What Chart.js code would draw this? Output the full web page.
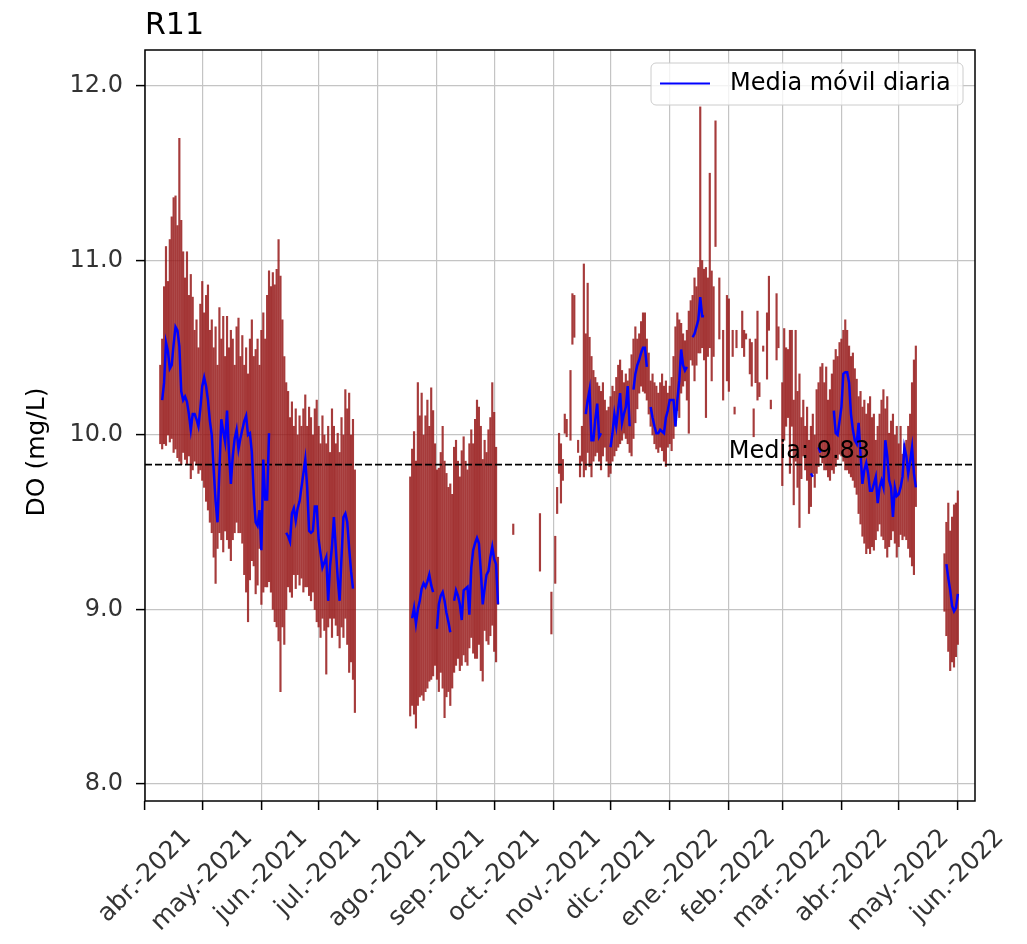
<!DOCTYPE html>
<html>
<head>
<meta charset="utf-8">
<script src="https://cdn.jsdelivr.net/npm/chart.js@4.4.1/dist/chart.umd.min.js"></script>
<style>
  html, body { margin: 0; padding: 0; background: #fff; }
  canvas { display: block; }
</style>
</head>
<body>
<canvas id="chart" width="1027" height="944"></canvas>
<script>
// x values are days counted from 1 April 2021
const monthDays = [0, 30, 61, 91, 122, 153, 183, 214, 244, 275, 306, 334, 365, 395, 426]
const monthLabels = ['abr.-2021', 'may.-2021', 'jun.-2021', 'jul.-2021', 'ago.-2021', 'sep.-2021',
  'oct.-2021', 'nov.-2021', 'dic.-2021', 'ene.-2022', 'feb.-2022', 'mar.-2022', 'abr.-2022',
  'may.-2022', 'jun.-2022']
const yTicks = [8, 9, 10, 11, 12]
const meanValue = 9.83

// daily range of the raw DO readings (mg/L), one entry per day
const seg1Start = 8
const seg1High = [
  10.40, 10.55, 10.85, 11.08, 10.88, 11.12, 11.25, 11.36, 11.37, 11.20,
  11.70, 11.23, 11.05, 10.90, 11.05, 10.80, 10.92, 10.79, 10.60, 10.66,
  10.50, 10.75, 10.88, 10.70, 10.80, 10.86, 10.60, 10.66, 10.50, 10.62,
  10.40, 10.73, 10.55, 10.68, 10.45, 10.68, 10.50, 10.60, 10.55, 10.40,
  10.62, 10.67, 10.45, 10.57, 10.40, 10.50, 10.35, 10.55, 10.66, 10.45,
  10.49, 10.55, 10.40, 10.60, 10.70, 10.55, 10.80, 10.94, 10.85, 10.93,
  10.86, 10.95, 11.12, 10.91, 10.66, 10.45, 10.30, 10.25, 10.10, 10.19,
  10.05, 10.15, 10.00, 10.11, 10.05, 10.15, 10.23, 10.05, 10.16, 10.10,
  10.00, 10.15, 10.20, 10.05, 9.95, 10.11, 10.00, 9.95, 10.05, 9.90,
  10.15, 10.05, 9.95, 10.01, 9.90, 10.10, 10.00, 10.26, 10.15, 10.24,
  10.00, 10.09, 9.80
]
const seg1Low = [
  9.95, 9.92, 9.95, 9.94, 10.00, 9.96, 9.98, 9.90, 9.92, 9.87,
  9.85, 9.83, 9.90, 9.86, 9.83, 9.88, 9.75, 9.80, 9.85, 9.83,
  9.78, 9.80, 9.74, 9.70, 9.62, 9.57, 9.50, 9.44, 9.30, 9.15,
  9.35, 9.44, 9.40, 9.33, 9.45, 9.40, 9.35, 9.28, 9.40, 9.44,
  9.50, 9.44, 9.44, 9.38, 9.20, 9.10, 8.93, 9.17, 9.28, 9.25,
  9.09, 9.14, 9.35, 9.03, 9.10, 9.13, 9.13, 9.16, 9.10, 9.00,
  8.93, 8.90, 8.82, 8.53, 8.90, 8.80, 9.00, 9.13, 9.10, 9.07,
  9.20, 9.12, 9.20, 9.14, 9.18, 9.10, 9.13, 9.13, 9.08, 9.05,
  9.10, 9.00, 8.93, 8.90, 8.84, 8.95, 8.88, 8.63, 8.90, 8.95,
  8.84, 8.95, 8.91, 8.85, 8.78, 8.90, 8.84, 8.95, 8.80, 8.64,
  8.70, 8.60, 8.41
]

const seg2Start = 139
const seg2High = [
  9.76, 9.92, 10.02, 9.85, 10.30, 10.11, 10.24, 10.00, 10.11, 10.20,
  10.05, 10.27, 10.14, 9.95, 9.80, 9.81, 9.90, 10.05, 9.85, 9.78,
  9.70, 9.72, 9.66, 9.93, 9.97, 9.85, 9.76, 9.91, 9.99, 9.85,
  9.80, 9.95, 10.03, 9.95, 10.09, 10.20, 10.16, 10.05, 9.86, 9.97,
  9.90, 10.03, 10.10, 10.30, 10.13, 9.93, 9.30
]
const seg2Low = [
  8.39, 8.45, 8.40, 8.32, 8.45, 8.50, 8.51, 8.48, 8.53, 8.55,
  8.59, 8.60, 8.62, 8.68, 8.60, 8.53, 8.64, 8.55, 8.38, 8.50,
  8.53, 8.45, 8.55, 8.64, 8.68, 8.72, 8.65, 8.68, 8.74, 8.70,
  8.68, 8.78, 8.84, 8.75, 8.72, 8.72, 8.80, 8.65, 8.59, 8.88,
  8.82, 8.80, 8.85, 8.91, 8.76, 8.70, 9.03
]

const seg3Start = 230
const seg3High = [
  10.98, 10.58, 10.87, 10.56, 10.45, 10.37, 10.33, 10.30, 10.28, 10.25,
  10.30, 10.20, 10.14, 10.16, 10.22, 10.28, 10.25, 10.33, 10.40, 10.43,
  10.37, 10.30, 10.35, 10.31, 10.38, 10.46, 10.55, 10.62, 10.55, 10.58,
  10.65, 10.70, 10.70, 10.55, 10.47, 10.31, 10.35, 10.30, 10.28, 10.24,
  10.30, 10.35, 10.28, 10.31, 10.24, 10.28, 10.33, 10.45, 10.62, 10.70,
  10.66, 10.64, 10.58, 10.54, 10.60, 10.71, 10.77, 10.80, 10.90, 10.85,
  10.96, 11.88, 11.00, 10.95, 10.96, 10.90, 11.50, 10.94, 10.85, 11.80
]
const seg3Low = [
  9.76, 9.80, 9.90, 9.82, 9.76, 9.85, 9.88, 9.90, 9.85, 9.80,
  9.88, 9.93, 9.85, 9.76, 9.78, 9.85, 9.88, 9.91, 9.93, 9.95,
  9.97, 10.01, 9.98, 9.95, 9.90, 9.88, 9.98, 10.07, 10.15, 10.24,
  10.28, 10.25, 10.24, 10.20, 10.12, 10.05, 10.00, 9.95, 9.92, 9.90,
  9.93, 9.91, 9.85, 9.82, 9.93, 9.95, 9.91, 9.98, 10.05, 10.14,
  10.10, 10.24, 10.28, 10.31, 10.20, 10.01, 10.43, 10.40, 10.31, 10.40,
  10.47, 10.47, 10.50, 10.43, 10.10, 10.45, 10.50, 10.31, 10.45, 11.08
]

const seg4Start = 345
const seg4High = [
  10.20, 10.05, 10.16, 9.97, 10.05, 10.12, 10.00, 10.26, 10.30, 10.39,
  10.41, 10.30, 10.39, 10.20, 10.26, 10.35, 10.43, 10.49, 10.45, 10.53,
  10.55, 10.60, 10.66, 10.60, 10.51, 10.45, 10.47, 10.38, 10.32, 10.22,
  10.25, 10.16, 10.20, 10.12, 10.18, 10.22, 10.10, 10.12, 9.97, 10.05,
  10.12, 10.20, 10.26, 10.15, 10.22, 10.01, 10.08, 10.12, 10.00, 10.05,
  9.95, 10.05, 9.89, 9.95, 9.97, 10.05, 10.12, 10.30, 10.43, 10.51
]
const seg4Low = [
  9.88, 9.80, 9.74, 9.55, 9.59, 9.78, 9.70, 9.78, 9.82, 9.88,
  9.84, 9.80, 9.80, 9.76, 9.74, 9.80, 9.78, 9.82, 9.86, 9.89,
  9.88, 9.85, 9.80, 9.80, 9.78, 9.76, 9.74, 9.70, 9.66, 9.55,
  9.49, 9.42, 9.38, 9.32, 9.35, 9.32, 9.36, 9.34, 9.40, 9.45,
  9.49, 9.42, 9.40, 9.35, 9.30, 9.36, 9.40, 9.45, 9.38, 9.30,
  9.36, 9.43, 9.40, 9.42, 9.40, 9.35, 9.30, 9.25, 9.20, 9.59
]

const seg5Start = 419
const seg5High = [9.32, 9.50, 9.61, 9.45, 9.53, 9.60, 9.61, 9.68]
const seg5Low = [8.99, 8.85, 8.76, 8.65, 8.70, 8.67, 8.73, 8.80]

// scattered days with only a few readings
const gapDays = [193, 207, 213, 215, 216, 217, 218, 219, 220, 221, 223, 224, 225, 227, 228, 229,
  301, 303, 305, 306, 308, 309, 310, 313, 314, 315, 317, 318, 319, 320, 321, 322, 324,
  326, 327, 328, 331, 332, 334, 335, 336, 337, 338, 339, 340, 341, 342, 343, 344]
const gapLow = [9.43, 9.22, 8.86, 9.15, 9.55, 9.78, 9.61, 9.74, 10.01, 9.99, 9.97, 10.52, 10.56, 9.90, 9.76, 9.85,
  10.55, 10.20, 10.31, 10.25, 10.45, 10.12, 10.50, 10.50, 10.45, 10.55, 10.35, 10.28, 9.99, 10.30, 10.20, 10.22, 10.48,
  10.32, 10.60, 10.15, 10.43, 10.50, 9.71, 9.97, 10.05, 10.10, 9.78, 10.05, 9.60, 9.85, 9.70, 9.47, 9.75]
const gapHigh = [9.49, 9.55, 9.10, 9.42, 9.70, 10.01, 9.95, 9.86, 10.12, 10.09, 10.37, 10.81, 10.80, 9.97, 9.88, 10.05,
  10.90, 10.60, 10.80, 10.78, 10.60, 10.16, 10.60, 10.71, 10.60, 10.58, 10.55, 10.53, 10.15, 10.55, 10.71, 10.30, 10.51,
  10.70, 10.91, 10.20, 10.81, 10.62, 10.30, 10.61, 10.50, 10.49, 10.60, 10.60, 10.20, 10.60, 10.25, 10.35, 10.10]

// daily moving average (null = no value)
const ma1Start = 9
const ma1 = [
  10.20, 10.30, 10.53, 10.48, 10.38, 10.40, 10.52, 10.62, 10.60, 10.51,
  10.25, 10.20, 10.22, 10.19, 10.12, 10.03, 10.12, 10.12, 10.09, 10.05,
  10.15, 10.28, 10.33, 10.28, 10.20, 10.08, 10.00, 9.80, 9.62, 9.50,
  9.80, 10.09, 10.02, 9.96, 10.14, 9.90, 9.72, 9.88, 9.98, 10.03,
  9.92, 9.98, 10.03, 10.08, 10.11, 10.00, 10.01, 9.90, 9.66, 9.50,
  9.48, 9.57, 9.34, 9.86, 9.63, 9.63, 10.01, null, null, null,
  null, null, null, null, null, 9.44, 9.42, 9.39, 9.55, 9.58,
  9.51, 9.58, 9.62, 9.70, 9.78, 9.86, 9.70, 9.45, 9.44, 9.45,
  9.59, 9.59, 9.40, 9.32, 9.24, 9.27, 9.30, 9.05, 9.25, 9.36,
  9.53, 9.35, 9.18, 9.05, 9.30, 9.53, 9.55, 9.50, 9.35, 9.22,
  9.12
]
const ma2Start = 140
const ma2 = [
  8.95, 9.01, 8.92, 9.00, 9.05, 9.12, 9.15, 9.13, 9.16, 9.20,
  9.14, 9.10, null, 8.89, 9.03, 9.08, 9.10, 9.05, 8.98, 8.93,
  8.87, null, 9.05, 9.11, 9.08, 9.03, 8.94, 9.11, 9.12, 9.13,
  8.97, 9.24, 9.34, 9.38, 9.41, 9.38, 9.22, 9.03, 9.12, 9.20,
  9.22, 9.30, 9.36, 9.29, 9.26, 9.03
]
const ma3Start = 231
const ma3 = [
  10.12, 10.20, 10.26, 9.97, 9.97, 10.09, 10.18, 9.99, 10.01, null,
  null, null, null, 9.93, 10.01, 10.12, 10.05, 10.15, 10.24, 10.07,
  10.12, 10.16, 10.28, 10.05, null, 10.26, 10.35, 10.40, 10.43, 10.47,
  10.50, 10.50, 10.39, null, 10.16, 10.10, 10.05, 10.01, 10.01, 10.03,
  10.02, 10.01, 10.10, 10.14, 10.20, 10.20, 10.20, 10.05, 10.20, 10.31,
  10.49, 10.40, 10.37, 10.39, null, null, 10.56, 10.58, 10.62, 10.66,
  10.79, 10.68, 10.68
]
const ma4Start = 349
const ma4 = [
  9.78, 9.76, null, null, 9.93, 9.90, null, null, null, null,
  null, null, 10.14, 10.01, 10.00, 10.08, 10.16, 10.35, 10.36, 10.36,
  10.30, 10.12, 10.03, 9.97, 9.95, 10.07, 9.89, 9.72, 9.80, 9.84,
  9.78, 9.68, 9.68, 9.72, 9.76, 9.61, 9.70, 9.74, 9.70, 9.97,
  9.88, 9.74, 9.70, 9.53, 9.70, 9.65, 9.66, 9.70, 9.76, 9.93,
  9.88, 9.78, 9.85, 9.93, 9.78, 9.70
]
const ma5Start = 420
const ma5 = [9.26, 9.18, 9.11, 9.02, 8.99, 9.01, 9.09]

function rangeBars(start, lows, highs) {
  return lows.map((lo, i) => ({ x: start + i, y: [lo, highs[i]] }))
}

function maLine(start, values) {
  // trailing null so separate pieces never get joined
  return [...values.map((v, i) => ({ x: start + i, y: v })), { x: start + values.length, y: null }]
}

const rawPoints = [
  ...rangeBars(seg1Start, seg1Low, seg1High),
  ...rangeBars(seg2Start, seg2Low, seg2High),
  ...gapDays.map((d, i) => ({ x: d, y: [gapLow[i], gapHigh[i]] })),
  ...rangeBars(seg3Start, seg3Low, seg3High),
  ...rangeBars(seg4Start, seg4Low, seg4High),
  ...rangeBars(seg5Start, seg5Low, seg5High),
]

const maPoints = [
  ...maLine(ma1Start, ma1),
  ...maLine(ma2Start, ma2),
  ...maLine(ma3Start, ma3),
  ...maLine(ma4Start, ma4),
  ...maLine(ma5Start, ma5),
]

const FONT = '"DejaVu Sans", sans-serif'

const decorations = {
  id: 'decorations',
  afterDraw(chart) {
    const { ctx, chartArea: a, scales: { x, y } } = chart
    ctx.save()

    // frame on all four sides
    ctx.strokeStyle = '#000'
    ctx.lineWidth = 1.5
    ctx.strokeRect(a.left, a.top, a.right - a.left, a.bottom - a.top)

    // rotated month labels, centred under each tick
    ctx.font = '25px ' + FONT
    ctx.fillStyle = '#333'
    ctx.textAlign = 'center'
    ctx.textBaseline = 'middle'
    monthDays.forEach((d, i) => {
      const px = x.getPixelForValue(d)
      const w = ctx.measureText(monthLabels[i]).width
      const half = (w + 25) * Math.SQRT1_2 / 2
      ctx.save()
      ctx.translate(px, 825 + half)
      ctx.rotate(-Math.PI / 4)
      ctx.fillText(monthLabels[i], 0, 0)
      ctx.restore()
    })

    // y axis title
    ctx.save()
    ctx.fillStyle = '#000'
    ctx.font = '25px ' + FONT
    ctx.translate(37, 452)
    ctx.rotate(-Math.PI / 2)
    ctx.fillText('DO (mg/L)', 0, 0)
    ctx.restore()

    // chart title
    ctx.fillStyle = '#000'
    ctx.font = '30px ' + FONT
    ctx.textAlign = 'left'
    ctx.textBaseline = 'alphabetic'
    ctx.fillText('R11', a.left, 34)

    // mean label
    ctx.font = '24px ' + FONT
    ctx.fillText('Media: ' + meanValue.toFixed(2), x.getPixelForValue(306), y.getPixelForValue(meanValue) - 7)

    // legend box
    const bx = a.right - 324, by = a.top + 13, bw = 312, bh = 42
    ctx.beginPath()
    ctx.roundRect(bx, by, bw, bh, 5)
    ctx.fillStyle = 'rgba(255,255,255,0.8)'
    ctx.fill()
    ctx.strokeStyle = '#cccccc'
    ctx.lineWidth = 1
    ctx.stroke()
    ctx.beginPath()
    ctx.moveTo(bx + 9, by + 20.5)
    ctx.lineTo(bx + 59, by + 20.5)
    ctx.strokeStyle = '#0000ff'
    ctx.lineWidth = 2
    ctx.stroke()
    ctx.fillStyle = '#000'
    ctx.textBaseline = 'middle'
    ctx.fillText('Media móvil diaria', bx + 79, by + 21)

    ctx.restore()
  }
}

const gridOpts = {
  color: '#c4c4c4',
  lineWidth: 1.2,
  offset: false,
  drawTicks: true,
  tickLength: 9,
  tickColor: '#000',
  tickWidth: 1.5,
}

new Chart(document.getElementById('chart'), {
  type: 'line',
  data: {
    datasets: [
      {
        type: 'line',
        label: 'Media móvil diaria',
        data: maPoints,
        borderColor: '#0000ff',
        borderWidth: 2.5,
        pointRadius: 0,
        tension: 0,
        spanGaps: false,
        order: 0,
      },
      {
        type: 'line',
        label: 'Media',
        data: [{ x: 0, y: meanValue }, { x: 435, y: meanValue }],
        borderColor: '#000',
        borderWidth: 1.8,
        borderDash: [7, 3],
        pointRadius: 0,
        order: 1,
      },
      {
        type: 'bar',
        label: 'DO',
        data: rawPoints,
        backgroundColor: 'rgba(150,25,25,0.85)',
        borderWidth: 0,
        barThickness: 1.5,
        order: 2,
      },
    ]
  },
  plugins: [decorations],
  options: {
    responsive: false,
    devicePixelRatio: 1,
    animation: false,
    layout: { padding: { top: 50, right: 52, left: 0, bottom: 0 } },
    plugins: {
      legend: { display: false },
      tooltip: { enabled: false },
    },
    scales: {
      x: {
        type: 'linear',
        min: 0,
        max: 435,
        offset: false,
        afterBuildTicks: s => { s.ticks = monthDays.map(v => ({ value: v })) },
        ticks: { display: false },
        grid: gridOpts,
        border: { display: false },
        afterFit: s => { s.height = 143 },
      },
      y: {
        type: 'linear',
        min: 7.903,
        max: 12.206,
        beginAtZero: false,
        afterBuildTicks: s => { s.ticks = yTicks.map(v => ({ value: v })) },
        ticks: {
          font: { size: 24, family: FONT },
          color: '#333',
          padding: 13,
          callback: v => v.toFixed(1),
        },
        grid: gridOpts,
        border: { display: false },
        afterFit: s => { s.width = 145 },
      }
    }
  }
})
</script>
</body>
</html>
